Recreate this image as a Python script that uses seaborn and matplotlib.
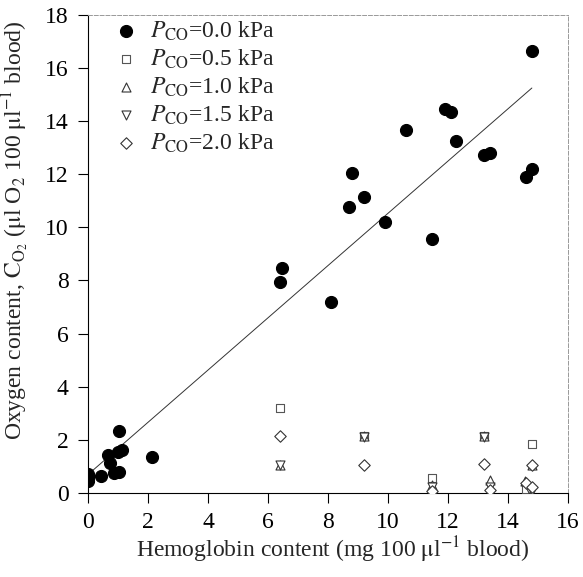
import numpy as np
import pandas as pd
import matplotlib
matplotlib.use("Agg")
import matplotlib.pyplot as plt
import seaborn as sns

# PCO = 0.0 kPa (filled circles)
hb_0 = [0.0, 0.0, 0.0, 0.0, 0.42, 0.65, 0.72, 0.87, 1.0, 1.02, 1.03, 1.14, 2.13,
        6.39, 6.48, 8.09, 8.70, 8.81, 9.20, 9.89, 10.59, 11.48, 11.90, 12.10,
        12.28, 13.19, 13.39, 14.59, 14.80, 14.80]
o2_0 = [0.45, 0.60, 0.72, 0.52, 0.64, 1.44, 1.14, 0.74, 1.55, 2.34, 0.79, 1.62, 1.33,
        7.94, 8.45, 7.17, 10.76, 12.04, 11.14, 10.19, 13.68, 9.56, 14.44, 14.34,
        13.26, 12.74, 12.79, 11.89, 12.20, 16.65]

# PCO = 0.5 kPa (open squares)
hb_05 = [6.41, 9.19, 11.48, 13.19, 14.80, 14.62]
o2_05 = [3.18, 2.12, 0.55, 2.14, 1.84, 0.15]

# PCO = 1.0 kPa (triangles up)
hb_10 = [6.41, 9.19, 11.48, 13.19, 13.39, 14.58, 14.80]
o2_10 = [1.05, 2.12, 0.30, 2.14, 0.49, 0.45, 1.05]

# PCO = 1.5 kPa (triangles down)
hb_15 = [6.41, 9.19, 11.48, 13.19, 13.39, 14.70, 14.80]
o2_15 = [1.05, 2.10, 0.20, 2.10, 0.20, 0.15, 0.05]

# PCO = 2.0 kPa (diamonds)
hb_20 = [6.41, 9.19, 11.48, 13.19, 13.39, 14.59, 14.80, 14.80]
o2_20 = [2.12, 1.05, 0.05, 1.09, 0.11, 0.36, 1.05, 0.20]

labels = ["0.0", "0.5", "1.0", "1.5", "2.0"]
x_ticks = list(range(0, 17, 2))
y_ticks = list(range(0, 19, 2))

frames = []
for lab, xs, ys in zip(labels, [hb_0, hb_05, hb_10, hb_15, hb_20],
                       [o2_0, o2_05, o2_10, o2_15, o2_20]):
    frames.append(pd.DataFrame({"hb": xs, "o2": ys, "pco": lab}))
df = pd.concat(frames, ignore_index=True)

sns.set_style("ticks")
plt.rcParams["font.family"] = ["Liberation Serif", "DejaVu Serif"]
plt.rcParams["mathtext.fontset"] = "stix"

fig = plt.figure(figsize=(5.83, 5.77), dpi=100)
ax = fig.add_axes([0.151, 0.146, 0.823, 0.828])

styles = {
    "0.0": dict(marker="o", s=75, facecolor="black", edgecolor="black"),
    "0.5": dict(marker="s", s=36, facecolor="white", edgecolor="#555555"),
    "1.0": dict(marker="^", s=42, facecolor="white", edgecolor="#333333"),
    "1.5": dict(marker="v", s=42, facecolor="white", edgecolor="#333333"),
    "2.0": dict(marker="D", s=34, facecolor="white", edgecolor="#333333"),
}

for lab in labels:
    sub = df[df["pco"] == lab]
    st = styles[lab]
    sns.scatterplot(data=sub, x="hb", y="o2", ax=ax, marker=st["marker"], s=st["s"],
                    color=st["facecolor"], edgecolor=st["edgecolor"], linewidth=0.8,
                    label=r"$P_{\mathrm{CO}}$=%s kPa" % lab, zorder=3)

# linear regression for PCO = 0.0
sns.regplot(data=df[df["pco"] == "0.0"], x="hb", y="o2", ax=ax, scatter=False,
            ci=None, truncate=True, line_kws=dict(color="#333333", lw=0.7))

ax.set_xlim(0, 16)
ax.set_ylim(0, 18)
ax.set_xticks(x_ticks)
ax.set_yticks(y_ticks)
ax.tick_params(direction="out", length=7, width=0.8, labelsize=17, colors="black")
ax.tick_params(axis="x", pad=7)
ax.tick_params(axis="y", pad=7)

for side in ["left", "bottom"]:
    ax.spines[side].set_linewidth(0.8)
    ax.spines[side].set_color("black")
for side in ["top", "right"]:
    ax.spines[side].set_visible(True)
    ax.spines[side].set_linestyle((0, (4, 2)))
    ax.spines[side].set_linewidth(0.7)
    ax.spines[side].set_color("#999999")

ax.set_xlabel(r"Hemoglobin content (mg 100 $\mathrm{\mu}$l$^{-1}$ blood)", fontsize=17, labelpad=4)
ax.set_ylabel(r"Oxygen content, $\mathrm{C}_{\mathrm{O_2}}$ ($\mathrm{\mu}$l O$_2$ 100 $\mathrm{\mu}$l$^{-1}$ blood)",
              fontsize=17, labelpad=5)
ax.yaxis.set_label_coords(-0.118, 0.55)
ax.xaxis.set_label_coords(0.51, -0.088)

leg = ax.legend(loc="upper left", bbox_to_anchor=(0.02, 1.025), frameon=False, fontsize=17,
                handletextpad=0.5, labelspacing=0.2, borderaxespad=0.3, handlelength=1.0)

fig.savefig("out.png", dpi=100)
